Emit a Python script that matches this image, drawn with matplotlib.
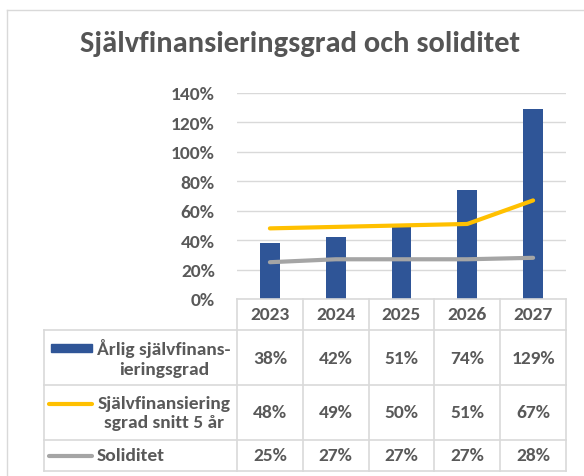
import matplotlib.pyplot as plt
from matplotlib.lines import Line2D
from matplotlib.patches import Rectangle
from matplotlib.ticker import FuncFormatter

years = ['2023', '2024', '2025', '2026', '2027']
arlig = [38, 42, 51, 74, 129]
snitt5 = [48, 49, 50, 51, 67]
soliditet = [25, 27, 27, 27, 28]
series_labels = ['Årlig självfinans-\nieringsgrad',
                 'Självfinansiering\nsgrad snitt 5 år',
                 'Soliditet']
title = 'Självfinansieringsgrad och soliditet'

BLUE = '#2F5597'
YELLOW = '#FFC000'
GRAY = '#A5A5A5'
TXT = '#595959'
GRID = '#D9D9D9'
FONT = ['Carlito', 'DejaVu Sans']
FS = 14

W, H = 584, 477


def fx(px):
    return px / W


def fy(py):
    return 1 - py / H


fig = plt.figure(figsize=(W / 100, H / 100), dpi=100)

# chart border
fig.add_artist(Line2D([fx(7), fx(7)], [fy(11), fy(477)], color=GRID, lw=1))
fig.add_artist(Line2D([fx(7), fx(584)], [fy(11), fy(11)], color=GRID, lw=1))

fig.text(fx(300), fy(44), title, ha='center', va='center', fontsize=22,
         color='#555555', family=FONT, weight='bold')

# plot area
x0, x1 = 237, 566
ax = fig.add_axes([fx(x0), fy(300), fx(x1 - x0), (300 - 94) / H])
pos = list(range(len(years)))
ax.bar(pos, arlig, width=0.3, color=BLUE, zorder=3)
ax.plot(pos, snitt5, color=YELLOW, lw=3, solid_capstyle='round', zorder=4)
ax.plot(pos, soliditet, color=GRAY, lw=3, solid_capstyle='round', zorder=4)
ax.set_xlim(-0.5, len(years) - 0.5)
ax.set_ylim(0, 140)
ax.set_yticks(range(0, 141, 20))
ax.yaxis.set_major_formatter(FuncFormatter(lambda v, p: '%d%%' % v))
ax.set_xticks([])
ax.grid(axis='y', color=GRID, lw=1, zorder=0)
for s in ax.spines.values():
    s.set_visible(False)
ax.tick_params(axis='y', length=0, pad=16, labelsize=FS, labelcolor=TXT)
for lab in ax.get_yticklabels():
    lab.set_family(FONT)
    lab.set_weight('bold')

# data table
left = 44
rows = [300, 331, 386, 441, 472]
colw = (x1 - x0) / len(years)
cols = [x0 + i * colw for i in range(len(years) + 1)]
tl = dict(color=GRID, lw=1.2)
fig.add_artist(Line2D([fx(x0), fx(x1)], [fy(rows[0])] * 2, **tl))
for r in rows[1:]:
    fig.add_artist(Line2D([fx(left), fx(x1)], [fy(r)] * 2, **tl))
fig.add_artist(Line2D([fx(left)] * 2, [fy(rows[1]), fy(rows[-1])], **tl))
for c in cols:
    fig.add_artist(Line2D([fx(c)] * 2, [fy(rows[0]), fy(rows[-1])], **tl))

tk = dict(ha='center', va='center', fontsize=FS, color=TXT, family=FONT,
          weight='bold')
for i, y in enumerate(years):
    fig.text(fx(cols[i] + colw / 2), fy((rows[0] + rows[1]) / 2), y, **tk)

all_vals = [arlig, snitt5, soliditet]
for r, vals in enumerate(all_vals):
    yc = fy((rows[r + 1] + rows[r + 2]) / 2)
    for i, v in enumerate(vals):
        fig.text(fx(cols[i] + colw / 2), yc, '%d%%' % v, **tk)

# legend keys and series names
yc = [(rows[k] + rows[k + 1]) / 2 for k in range(1, 4)]
fig.add_artist(Rectangle((fx(51), fy(yc[0] - 6)), fx(41), 8 / H,
                         color=BLUE, transform=fig.transFigure))
fig.add_artist(Line2D([fx(49), fx(92)], [fy(yc[1] - 9)] * 2, color=YELLOW,
                      lw=3, solid_capstyle='round'))
fig.add_artist(Line2D([fx(49), fx(92)], [fy(yc[2])] * 2, color=GRAY,
                      lw=3, solid_capstyle='round'))
fig.text(fx(164), fy(yc[0]), series_labels[0], ha='center', va='center',
         fontsize=FS, color=TXT, family=FONT, weight='bold',
         linespacing=1.3)
fig.text(fx(164), fy(yc[1]), series_labels[1], ha='center', va='center',
         fontsize=FS, color=TXT, family=FONT, weight='bold',
         linespacing=1.3)
fig.text(fx(97), fy(yc[2]), series_labels[2], ha='left', va='center',
         fontsize=FS, color=TXT, family=FONT, weight='bold')

fig.savefig('out.png', dpi=100)
